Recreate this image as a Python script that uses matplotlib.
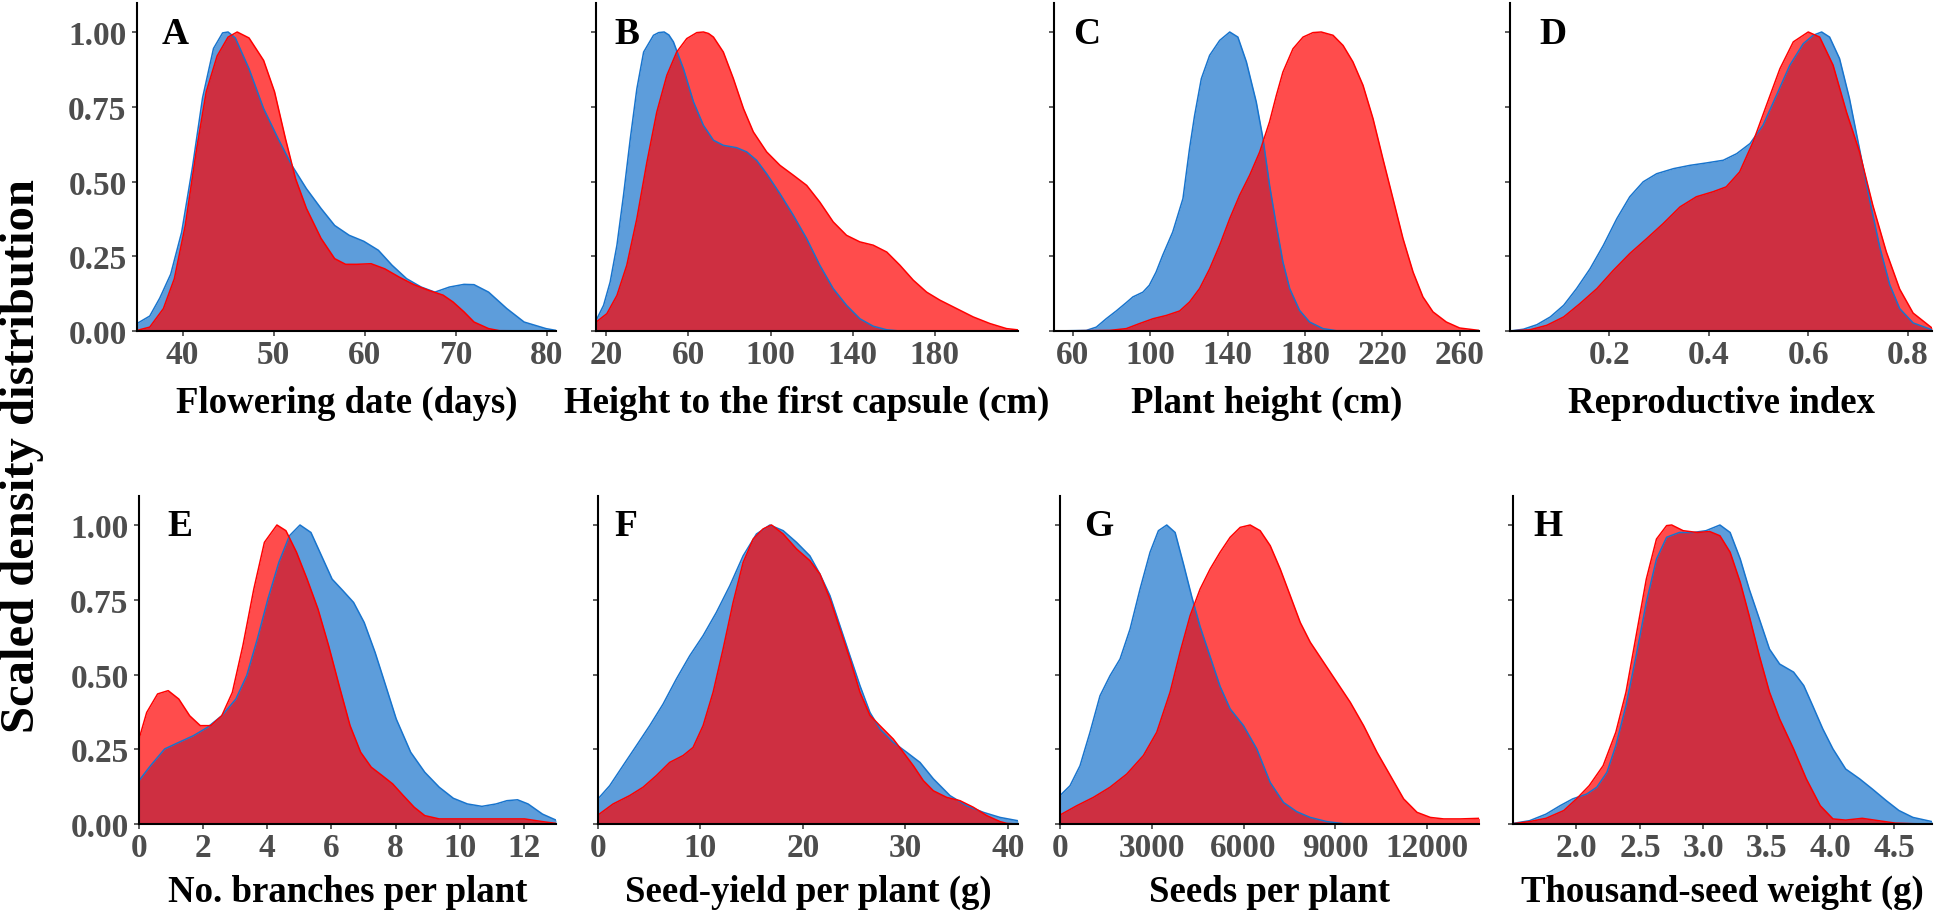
import matplotlib
matplotlib.use('Agg')
import matplotlib.pyplot as plt

plt.rcParams['font.family'] = ['Liberation Serif', 'DejaVu Serif']
plt.rcParams['font.weight'] = 'bold'

# ---------------- data (scaled densities) ----------------
# A: Flowering date
A_xb = [35, 36.4, 37.5, 38.7, 39.9, 41.1, 42.2, 43.4, 44.4, 45, 45.8, 47.3, 48.9, 50.5, 52, 53.6, 55.2, 56.7, 58.3, 59.9, 61.5, 63, 64.6, 66.2, 67.7, 69.3, 70.9, 72, 73.6, 75.6, 77.5, 79.9, 81]
A_yb = [0.025, 0.05, 0.11, 0.19, 0.33, 0.55, 0.78, 0.945, 0.997, 1.0, 0.98, 0.877, 0.744, 0.643, 0.554, 0.476, 0.41, 0.353, 0.32, 0.30, 0.27, 0.22, 0.175, 0.147, 0.13, 0.147, 0.156, 0.155, 0.13, 0.075, 0.03, 0.008, 0.002]
A_xr = [35, 36.4, 37.9, 39.1, 40.3, 41.5, 42.6, 43.8, 45, 46, 47.3, 48.9, 50.1, 51.3, 52.4, 53.6, 55.2, 56.7, 57.9, 59.1, 60.7, 62.2, 63.8, 65.4, 67, 68.6, 69.7, 70.9, 72, 73.6, 74.8, 81]
A_yr = [0.002, 0.013, 0.075, 0.175, 0.353, 0.60, 0.80, 0.92, 0.983, 1.0, 0.98, 0.905, 0.80, 0.643, 0.51, 0.41, 0.31, 0.242, 0.223, 0.223, 0.225, 0.208, 0.18, 0.155, 0.136, 0.12, 0.097, 0.064, 0.03, 0.008, 0.001, 0.0]

# B: Height to the first capsule
B_xb = [15.1, 18.7, 21.9, 25.2, 28.4, 31.7, 34.9, 38.2, 43, 45.5, 48.2, 50.5, 52.7, 57.6, 62.5, 67.3, 72.2, 77, 83.5, 88.4, 93.2, 98.1, 104.6, 111.1, 117.6, 124, 130.5, 137, 143.5, 150, 156.6, 163]
B_yb = [0.036, 0.086, 0.164, 0.287, 0.454, 0.643, 0.81, 0.933, 0.989, 0.998, 1.0, 0.99, 0.967, 0.877, 0.766, 0.688, 0.638, 0.621, 0.613, 0.599, 0.571, 0.526, 0.459, 0.387, 0.309, 0.22, 0.142, 0.086, 0.041, 0.016, 0.004, 0.0]
B_xr = [15.1, 20.3, 25.2, 30, 34.9, 39.8, 44.6, 49.5, 54.3, 59.2, 64.1, 67.3, 69.8, 72.2, 77, 81.9, 86.8, 91.6, 98.1, 104.6, 111.1, 117.6, 124, 130.5, 137, 143.5, 150, 156.6, 163, 169.5, 176, 182.5, 190.6, 198.7, 206.8, 214.9, 220.2]
B_yr = [0.03, 0.058, 0.119, 0.22, 0.376, 0.565, 0.732, 0.855, 0.933, 0.978, 0.998, 1.0, 0.995, 0.983, 0.933, 0.844, 0.744, 0.666, 0.599, 0.554, 0.521, 0.487, 0.431, 0.365, 0.32, 0.298, 0.287, 0.264, 0.22, 0.17, 0.13, 0.103, 0.075, 0.047, 0.025, 0.008, 0.004]

# C: Plant height
C_xb = [50.2, 66.9, 72.1, 77.2, 82.4, 87.6, 91, 96.2, 99.5, 103, 106.4, 111.6, 116.9, 120.3, 122.9, 126.4, 130.7, 135.9, 141.1, 145.3, 149.7, 154.8, 158.3, 161.7, 165.2, 168.6, 172.1, 177.2, 182.4, 189.3, 196.2, 270]
C_yb = [0, 0.002, 0.013, 0.041, 0.067, 0.095, 0.114, 0.13, 0.153, 0.197, 0.253, 0.331, 0.443, 0.61, 0.72, 0.844, 0.922, 0.972, 1.0, 0.983, 0.9, 0.766, 0.643, 0.487, 0.353, 0.231, 0.142, 0.069, 0.03, 0.008, 0.001, 0]
C_xr = [50.2, 79, 87.6, 94.5, 101.4, 108.3, 115.2, 120.3, 125.5, 130.7, 135.9, 141.1, 146.2, 151.4, 156.6, 161.7, 165.2, 168.6, 173.8, 179, 184.1, 188.4, 194.5, 199.7, 204.8, 210, 215.2, 220.3, 225.5, 230.7, 235.9, 241, 246.2, 253.1, 260, 270]
C_yr = [0, 0.002, 0.008, 0.025, 0.041, 0.052, 0.067, 0.097, 0.142, 0.208, 0.287, 0.376, 0.454, 0.521, 0.599, 0.70, 0.788, 0.866, 0.944, 0.983, 0.998, 1.0, 0.989, 0.955, 0.9, 0.822, 0.71, 0.576, 0.443, 0.309, 0.197, 0.114, 0.064, 0.03, 0.01, 0.002]

# D: Reproductive index
D_xb = [0.0, 0.027, 0.054, 0.081, 0.108, 0.134, 0.161, 0.188, 0.215, 0.241, 0.268, 0.295, 0.329, 0.362, 0.395, 0.429, 0.456, 0.483, 0.509, 0.536, 0.563, 0.590, 0.610, 0.627, 0.643, 0.663, 0.683, 0.703, 0.723, 0.744, 0.764, 0.784, 0.811, 0.849]
D_yb = [0, 0.006, 0.021, 0.047, 0.086, 0.142, 0.208, 0.287, 0.376, 0.449, 0.499, 0.526, 0.543, 0.554, 0.562, 0.571, 0.593, 0.627, 0.688, 0.788, 0.889, 0.961, 0.989, 1.0, 0.983, 0.911, 0.777, 0.61, 0.443, 0.28, 0.155, 0.075, 0.027, 0.004]
D_xr = [0.0, 0.040, 0.074, 0.108, 0.141, 0.175, 0.208, 0.241, 0.275, 0.308, 0.342, 0.375, 0.409, 0.435, 0.462, 0.489, 0.516, 0.543, 0.570, 0.600, 0.623, 0.650, 0.677, 0.703, 0.730, 0.757, 0.784, 0.811, 0.849]
D_yr = [0, 0.004, 0.019, 0.047, 0.092, 0.142, 0.203, 0.259, 0.309, 0.359, 0.415, 0.449, 0.466, 0.482, 0.532, 0.632, 0.755, 0.877, 0.967, 1.0, 0.983, 0.889, 0.732, 0.60, 0.42, 0.265, 0.14, 0.06, 0.01]

# E: No. branches per plant
E_xb = [0, 0.36, 0.8, 1.24, 1.69, 2.13, 2.58, 3.02, 3.36, 3.69, 4.02, 4.36, 4.69, 5.02, 5.36, 5.69, 6.02, 6.36, 6.69, 7.02, 7.36, 7.69, 8.02, 8.47, 8.91, 9.36, 9.8, 10.24, 10.69, 11.13, 11.47, 11.8, 12.13, 12.58, 13]
E_yb = [0.145, 0.195, 0.251, 0.273, 0.295, 0.323, 0.362, 0.418, 0.497, 0.619, 0.753, 0.875, 0.964, 1.0, 0.975, 0.897, 0.819, 0.78, 0.741, 0.674, 0.574, 0.463, 0.351, 0.24, 0.173, 0.123, 0.086, 0.067, 0.059, 0.067, 0.078, 0.081, 0.067, 0.033, 0.013]
E_xr = [0, 0.24, 0.58, 0.91, 1.24, 1.58, 1.91, 2.24, 2.58, 2.91, 3.24, 3.58, 3.91, 4.3, 4.58, 4.91, 5.24, 5.58, 5.91, 6.24, 6.58, 6.91, 7.24, 7.58, 7.91, 8.24, 8.58, 8.91, 9.36, 10.13, 11.24, 12.02, 12.58, 13]
E_yr = [0.284, 0.373, 0.435, 0.446, 0.418, 0.362, 0.329, 0.329, 0.362, 0.44, 0.597, 0.786, 0.942, 1.0, 0.981, 0.909, 0.819, 0.719, 0.597, 0.463, 0.329, 0.24, 0.19, 0.162, 0.134, 0.095, 0.056, 0.028, 0.017, 0.017, 0.017, 0.017, 0.008, 0.002]

# F: Seed-yield per plant
F_xb = [0, 1.14, 2.44, 3.75, 5.05, 6.35, 7.65, 8.96, 10.26, 11.56, 12.87, 14.17, 15.47, 16.78, 18.08, 19.38, 20.68, 21.66, 22.64, 23.62, 24.59, 25.57, 26.55, 27.52, 28.83, 30.13, 31.43, 32.74, 34.36, 35.99, 37.62, 39.25, 40.98]
F_yb = [0.084, 0.128, 0.195, 0.262, 0.329, 0.401, 0.485, 0.563, 0.63, 0.708, 0.797, 0.897, 0.97, 1.0, 0.981, 0.942, 0.897, 0.836, 0.764, 0.663, 0.563, 0.463, 0.373, 0.318, 0.273, 0.24, 0.206, 0.151, 0.095, 0.061, 0.039, 0.022, 0.011]
F_xr = [0, 1.47, 3.09, 4.4, 5.7, 7, 8.31, 9.28, 10.26, 11.24, 12.21, 13.19, 14.17, 15.15, 16.12, 16.94, 18.08, 19.38, 20.68, 21.66, 22.64, 23.62, 24.59, 25.57, 26.55, 27.52, 28.83, 29.8, 30.78, 31.76, 32.74, 34.04, 35.34, 36.64, 37.95, 39.25, 39.9, 41]
F_yr = [0.03, 0.067, 0.095, 0.123, 0.162, 0.206, 0.229, 0.256, 0.329, 0.441, 0.585, 0.741, 0.875, 0.953, 0.987, 1.0, 0.97, 0.92, 0.881, 0.836, 0.753, 0.652, 0.552, 0.441, 0.363, 0.329, 0.284, 0.24, 0.195, 0.145, 0.111, 0.089, 0.078, 0.056, 0.028, 0.008, 0.002, 0.0]

# G: Seeds per plant
G_xb = [0, 327, 655, 982, 1309, 1636, 1964, 2291, 2618, 2945, 3218, 3491, 3764, 4036, 4309, 4582, 4909, 5236, 5564, 6000, 6436, 6873, 7309, 7745, 8182, 8727, 9273, 13700]
G_yb = [0.095, 0.128, 0.195, 0.307, 0.429, 0.496, 0.552, 0.652, 0.786, 0.909, 0.981, 1.0, 0.975, 0.87, 0.76, 0.66, 0.56, 0.46, 0.385, 0.329, 0.251, 0.139, 0.072, 0.041, 0.022, 0.008, 0.001, 0]
G_xr = [0, 545, 1091, 1636, 2182, 2727, 3164, 3600, 3927, 4255, 4582, 4909, 5236, 5564, 5891, 6218, 6545, 6873, 7200, 7527, 7855, 8182, 8618, 9055, 9491, 9927, 10364, 10800, 11236, 11673, 12109, 12545, 13091, 13724]
G_yr = [0.03, 0.061, 0.089, 0.123, 0.167, 0.229, 0.307, 0.441, 0.575, 0.697, 0.786, 0.853, 0.909, 0.959, 0.992, 1.0, 0.981, 0.931, 0.853, 0.764, 0.674, 0.608, 0.541, 0.474, 0.407, 0.329, 0.24, 0.162, 0.084, 0.039, 0.022, 0.017, 0.017, 0.019]

# H: Thousand-seed weight
H_xb = [1.5, 1.63, 1.76, 1.87, 1.97, 2.08, 2.16, 2.24, 2.31, 2.39, 2.47, 2.55, 2.63, 2.71, 2.81, 2.92, 3.02, 3.13, 3.21, 3.29, 3.36, 3.44, 3.52, 3.6, 3.71, 3.79, 3.86, 3.94, 4.02, 4.12, 4.23, 4.33, 4.44, 4.54, 4.65, 4.8]
H_yb = [0.002, 0.011, 0.033, 0.061, 0.084, 0.1, 0.123, 0.173, 0.262, 0.396, 0.563, 0.741, 0.886, 0.959, 0.975, 0.975, 0.981, 1.0, 0.975, 0.886, 0.786, 0.686, 0.585, 0.535, 0.508, 0.463, 0.396, 0.318, 0.251, 0.184, 0.151, 0.117, 0.078, 0.045, 0.022, 0.008]
H_xr = [1.5, 1.63, 1.76, 1.9, 2.0, 2.1, 2.21, 2.31, 2.39, 2.47, 2.55, 2.63, 2.71, 2.75, 2.84, 2.95, 3.05, 3.13, 3.21, 3.29, 3.36, 3.44, 3.52, 3.6, 3.71, 3.81, 3.92, 4.02, 4.12, 4.25, 4.38, 4.51, 4.65, 4.8]
H_yr = [0.001, 0.008, 0.019, 0.045, 0.084, 0.128, 0.195, 0.307, 0.441, 0.63, 0.819, 0.953, 0.998, 1.0, 0.981, 0.975, 0.978, 0.964, 0.909, 0.808, 0.697, 0.563, 0.441, 0.351, 0.251, 0.151, 0.061, 0.017, 0.013, 0.019, 0.011, 0.003, 0.001, 0.0]

letters = ['A', 'B', 'C', 'D', 'E', 'F', 'G', 'H']
xlabels = ['Flowering date (days)', 'Height to the first capsule (cm)', 'Plant height (cm)',
           'Reproductive index', 'No. branches per plant', 'Seed-yield per plant (g)',
           'Seeds per plant', 'Thousand-seed weight (g)']
xticks = [[40, 50, 60, 70, 80], [20, 60, 100, 140, 180], [60, 100, 140, 180, 220, 260],
          [0.2, 0.4, 0.6, 0.8], [0, 2, 4, 6, 8, 10, 12], [0, 10, 20, 30, 40],
          [0, 3000, 6000, 9000, 12000], [2.0, 2.5, 3.0, 3.5, 4.0, 4.5]]
xticklabels = [['40', '50', '60', '70', '80'], ['20', '60', '100', '140', '180'],
               ['60', '100', '140', '180', '220', '260'], ['0.2', '0.4', '0.6', '0.8'],
               ['0', '2', '4', '6', '8', '10', '12'], ['0', '10', '20', '30', '40'],
               ['0', '3000', '6000', '9000', '12000'], ['2.0', '2.5', '3.0', '3.5', '4.0', '4.5']]
xlims = [(35, 81), (15, 220.5), (50.2, 270), (0.0, 0.849), (0, 13), (0, 41), (0, 13700), (1.5, 4.8)]
yticks = [0.0, 0.25, 0.5, 0.75, 1.0]
yticklabels = ['0.00', '0.25', '0.50', '0.75', '1.00']

blue_x = [A_xb, B_xb, C_xb, D_xb, E_xb, F_xb, G_xb, H_xb]
blue_y = [A_yb, B_yb, C_yb, D_yb, E_yb, F_yb, G_yb, H_yb]
red_x = [A_xr, B_xr, C_xr, D_xr, E_xr, F_xr, G_xr, H_xr]
red_y = [A_yr, B_yr, C_yr, D_yr, E_yr, F_yr, G_yr, H_yr]

# ---------------- layout (pixel geometry of the reference) ----------------
W, H = 1943, 912
fig = plt.figure(figsize=(W / 100, H / 100), dpi=100)

cols_top = [(137, 556), (596, 1018), (1054, 1479), (1510, 1932)]
cols_bot = [(139, 556), (598, 1018), (1060, 1479), (1513, 1932)]
rows = [(4, 332), (497, 825)]
letter_pos = [(162, 44), (614, 44), (1073, 44), (1539, 44),
              (167, 536), (614, 536), (1084, 536), (1533, 536)]
label_base = [413, 902]

BLUE = '#1874CD'
RED = '#FF0000'

for i in range(8):
    r = i // 4
    c = i % 4
    x0, x1 = (cols_top if r == 0 else cols_bot)[c]
    y0, y1 = rows[r]
    ax = fig.add_axes([x0 / W, 1 - y1 / H, (x1 - x0) / W, (y1 - y0) / H])

    ax.fill_between(blue_x[i], blue_y[i], 0, color=BLUE, alpha=0.7, linewidth=0)
    ax.plot(blue_x[i], blue_y[i], color=BLUE, linewidth=1.1, solid_joinstyle='round')
    ax.fill_between(red_x[i], red_y[i], 0, color=RED, alpha=0.7, linewidth=0)
    ax.plot(red_x[i], red_y[i], color=RED, linewidth=1.1, solid_joinstyle='round')

    ax.set_xlim(*xlims[i])
    ax.set_ylim(0, 1.097)
    ax.set_xticks(xticks[i])
    ax.set_xticklabels(xticklabels[i])
    ax.set_yticks(yticks)
    if c == 0:
        ax.set_yticklabels(yticklabels)
    else:
        ax.set_yticklabels([])

    for s in ['top', 'right']:
        ax.spines[s].set_visible(False)
    for s in ['left', 'bottom']:
        ax.spines[s].set_linewidth(1.5)
        ax.spines[s].set_color('black')
    ax.tick_params(axis='both', direction='out', length=3.5, width=1.1, color='#333333',
                   labelcolor='#4D4D4D', labelsize=24)
    ax.tick_params(axis='x', pad=2)
    ax.tick_params(axis='y', pad=4)
    for lab in ax.get_xticklabels() + ax.get_yticklabels():
        lab.set_fontweight('bold')

    # x label
    ax.set_xlabel(xlabels[i], fontsize=26.5, fontweight='bold', color='black', va='baseline')
    ax.xaxis.set_label_coords(0.5, -(label_base[r] - y1) / (y1 - y0))

    # panel letter
    lx, ly = letter_pos[i]
    fig.text(lx / W, 1 - ly / H, letters[i], fontsize=27, fontweight='bold',
             ha='left', va='baseline', color='black')

fig.text(22 / W, 0.5, 'Scaled density distribution', rotation=90, fontsize=35,
         fontweight='bold', ha='center', va='center', color='black')

fig.savefig('out.png', dpi=100)
